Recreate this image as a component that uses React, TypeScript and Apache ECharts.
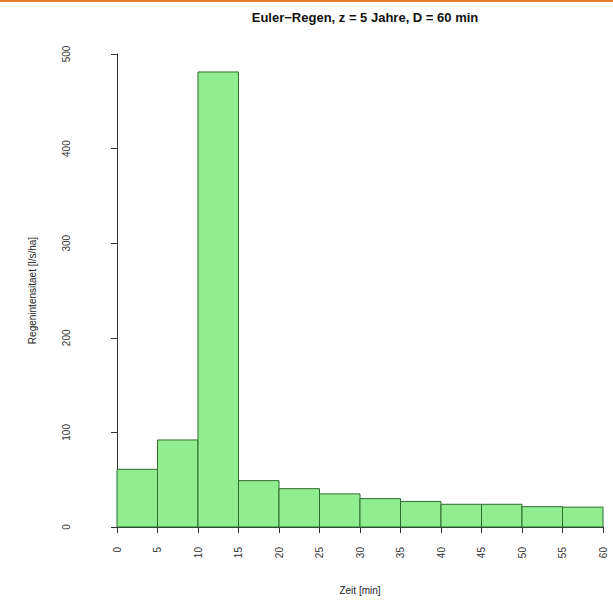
import React, { useEffect, useRef } from "react";
import * as echarts from "echarts";

const binStarts = [0, 5, 10, 15, 20, 25, 30, 35, 40, 45, 50, 55];
const binEnds = [5, 10, 15, 20, 25, 30, 35, 40, 45, 50, 55, 60];
const intensities = [61, 92, 481, 49, 40.5, 35, 30, 27, 24, 24, 21.5, 21];
const xTicks = [0, 5, 10, 15, 20, 25, 30, 35, 40, 45, 50, 55, 60];
const yTicks = [0, 100, 200, 300, 400, 500];

const titleText = "Euler\u2212Regen, z = 5 Jahre, D = 60 min";
const xName = "Zeit [min]";
const yName = "Regenintensitaet [l/s/ha]";

export default function App() {
  const ref = useRef<HTMLDivElement>(null);
  useEffect(() => {
    if (!ref.current) return;
    const chart = echarts.init(ref.current, null, { renderer: "svg" });
    const data = binStarts.map((s, i) => [s, binEnds[i], intensities[i]]);
    const font = "Liberation Sans, Arial, sans-serif";
    chart.setOption({
      animation: false,
      backgroundColor: "#ffffff",
      title: {
        text: titleText,
        left: 360,
        top: 6,
        textAlign: "center",
        textStyle: { fontFamily: font, fontSize: 13, fontWeight: "bold", color: "#111" },
      },
      graphic: [
        { type: "rect", shape: { x: 0, y: 0, width: 613, height: 2 }, style: { fill: "#e8792c" } },
      ],
      grid: { left: 117, right: 10, top: 54, bottom: 76, containLabel: false },
      xAxis: {
        type: "value",
        min: xTicks[0],
        max: xTicks[xTicks.length - 1],
        interval: 5,
        name: xName,
        nameLocation: "middle",
        nameGap: 58,
        nameTextStyle: { fontFamily: font, fontSize: 10, color: "#222" },
        axisLine: { show: true, lineStyle: { color: "#333", width: 1 } },
        axisTick: { show: true, length: 6, lineStyle: { color: "#333" } },
        axisLabel: { rotate: 90, margin: 20, fontFamily: font, fontSize: 10, color: "#333" },
        splitLine: { show: false },
      },
      yAxis: {
        type: "value",
        min: yTicks[0],
        max: yTicks[yTicks.length - 1],
        interval: 100,
        offset: 22,
        name: yName,
        nameLocation: "middle",
        nameRotate: 90,
        nameGap: 58,
        nameTextStyle: { fontFamily: font, fontSize: 10, color: "#222" },
        axisLine: { show: true, lineStyle: { color: "#333", width: 1 } },
        axisTick: { show: true, length: 6, lineStyle: { color: "#333" } },
        axisLabel: { rotate: 90, margin: 24, fontFamily: font, fontSize: 10, color: "#333" },
        splitLine: { show: false },
      },
      series: [
        {
          type: "custom",
          data,
          encode: { x: [0, 1], y: 2 },
          renderItem: (params: any, api: any) => {
            const p0 = api.coord([api.value(0), 0]);
            const p1 = api.coord([api.value(1), api.value(2)]);
            return {
              type: "rect",
              shape: { x: p0[0], y: p1[1], width: p1[0] - p0[0], height: p0[1] - p1[1] },
              style: { fill: "#90ee90", stroke: "#2d6b2d", lineWidth: 1 },
            };
          },
        },
      ],
    });
    return () => chart.dispose();
  }, []);
  return (
    <div
      ref={ref}
      style={{ position: "fixed", left: 0, top: 0, width: 613, height: 603 }}
    />
  );
}
